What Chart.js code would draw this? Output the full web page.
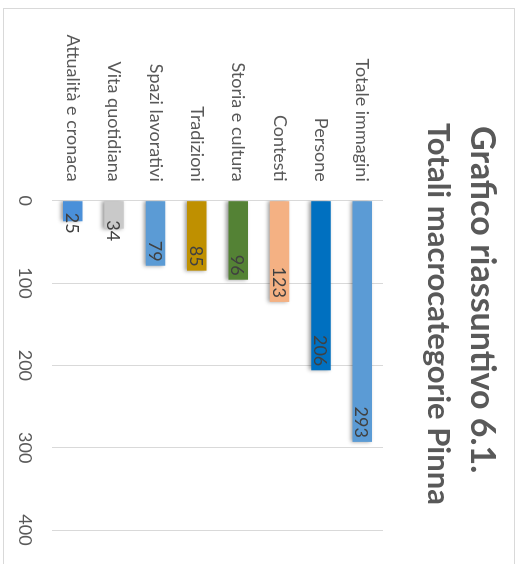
<!DOCTYPE html>
<html>
<head>
<meta charset="utf-8">
<script src="https://cdn.jsdelivr.net/npm/chart.js@4.4.1/dist/chart.umd.min.js"></script>
<style>
  html, body { margin: 0; padding: 0; background: #fff; overflow: hidden; }
  #rot {
    position: absolute; left: 0; top: 0;
    width: 564px; height: 527px;
    transform-origin: 0 0;
    transform: translate(527px, 0) rotate(90deg);
    overflow: hidden;
  }
  #box {
    position: absolute; left: 8px; top: 12px;
    width: 560px; height: 512px;
    box-sizing: border-box;
    border: 1px solid #d9d9d9;
  }
</style>
</head>
<body>
<div id="rot"><div id="box"><canvas id="chart"></canvas></div></div>
<script>
const titolo = ['Grafico riassuntivo 6.1.', 'Totali macrocategorie Pinna'];
const categorie = ['Totale immagini', 'Persone', 'Contesti', 'Storia e cultura', 'Tradizioni', 'Spazi lavorativi', 'Vita quotidiana', 'Attualità e cronaca'];
const valori = [293, 206, 123, 96, 85, 79, 34, 25];
const colori = ['#5b9bd5', '#0070c0', '#f4b183', '#548235', '#bf9000', '#5b9bd5', '#c9c9c9', '#4a90d9'];
const tickValori = [0, 100, 200, 300, 400];

const FONT = 'Lato';

// titolo su due righe (la prima riga è un po' più grande nella foto)
const titoloPlugin = {
  id: 'titolo',
  afterDraw(chart) {
    const ctx = chart.ctx;
    ctx.save();
    ctx.fillStyle = '#595959';
    ctx.textAlign = 'left';
    ctx.textBaseline = 'middle';
    ctx.font = 'bold 34px ' + FONT;
    ctx.fillText(titolo[0], 117, 32);
    ctx.font = 'bold 31px ' + FONT;
    ctx.fillText(titolo[1], 114, 76);
    ctx.restore();
  }
};

// ombra sotto le barre, come in Excel
const ombra = {
  id: 'ombra',
  beforeDatasetsDraw(chart) {
    const ctx = chart.ctx;
    ctx.save();
    ctx.shadowColor = 'rgba(0,0,0,0.4)';
    ctx.shadowBlur = 4;
    ctx.shadowOffsetX = 0;
    ctx.shadowOffsetY = 2;
  },
  afterDatasetsDraw(chart) {
    chart.ctx.restore();
  }
};

// etichette dati "interno estremità"
const etichette = {
  id: 'etichette',
  afterDatasetsDraw(chart) {
    const ctx = chart.ctx;
    const meta = chart.getDatasetMeta(0);
    ctx.save();
    ctx.font = '18px ' + FONT;
    ctx.fillStyle = '#404040';
    ctx.textBaseline = 'middle';
    ctx.textAlign = 'center';
    meta.data.forEach((bar, i) => {
      const txt = String(valori[i]);
      const w = ctx.measureText(txt).width;
      const len = bar.x - bar.base;
      let cx;
      if (len > w + 8) cx = bar.x - 4 - w / 2;
      else cx = bar.x + 2;
      ctx.fillText(txt, cx, bar.y + 1);
    });
    ctx.restore();
  }
};

new Chart(document.getElementById('chart'), {
  type: 'bar',
  data: {
    labels: categorie,
    datasets: [{
      data: valori,
      backgroundColor: colori,
      barPercentage: 0.47,
      categoryPercentage: 1
    }]
  },
  options: {
    indexAxis: 'y',
    responsive: true,
    maintainAspectRatio: false,
    animation: false,
    layout: { padding: { left: 0, right: 37, top: 131, bottom: 0 } },
    scales: {
      x: {
        min: 0, max: 400,
        afterFit: s => { s.height = 48; },
        afterBuildTicks: s => { s.ticks = tickValori.map(v => ({ value: v })); },
        grid: { color: '#d9d9d9', drawTicks: false, lineWidth: 1 },
        border: { display: false },
        ticks: { color: '#595959', font: { family: FONT, size: 18 }, padding: 16 }
      },
      y: {
        afterFit: s => { s.width = 191.7; },
        grid: { display: false, drawTicks: false },
        border: { display: false },
        ticks: { color: '#595959', font: { family: FONT, size: 18 }, padding: 19 }
      }
    },
    plugins: {
      legend: { display: false },
      tooltip: { enabled: false },
      title: { display: false }
    }
  },
  plugins: [ombra, etichette, titoloPlugin]
});
</script>
</body>
</html>
